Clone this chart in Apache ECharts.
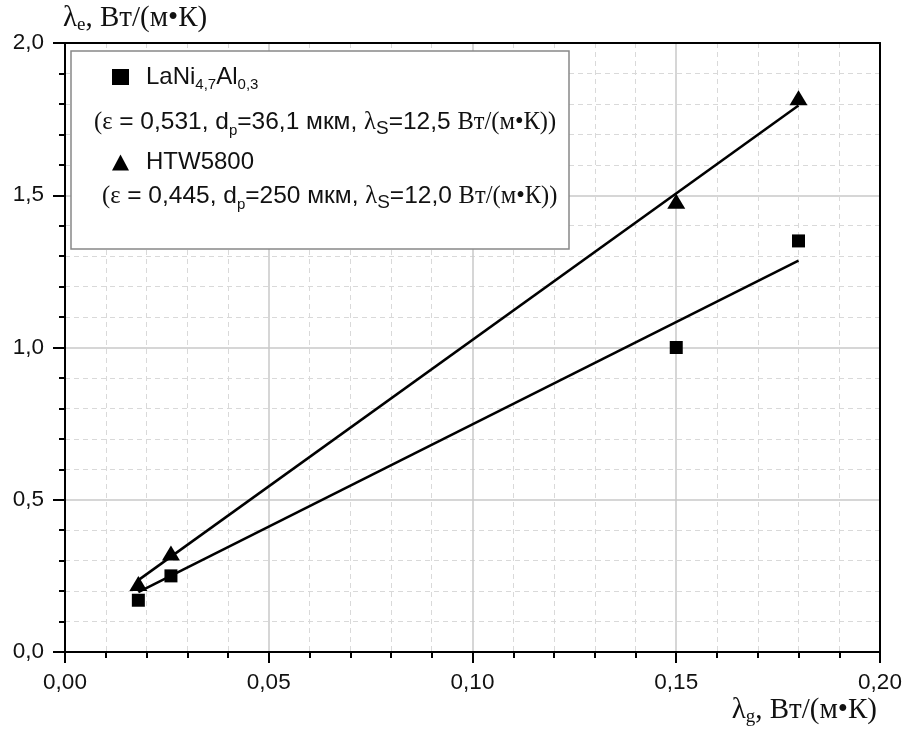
<!DOCTYPE html>
<html>
<head>
<meta charset="utf-8">
<script src="https://cdn.jsdelivr.net/npm/echarts@6/dist/echarts.min.js"></script>
<style>
  html, body { margin: 0; padding: 0; background: #fff; }
  #chart { width: 905px; height: 735px; }
</style>
</head>
<body>
<div id="chart"></div>
<script>
// измеренные точки
const lambdaG = [0.018, 0.026, 0.15, 0.18]
const laniValues = [0.17, 0.25, 1.0, 1.35]
const htwValues = [0.225, 0.325, 1.48, 1.82]
// линии аппроксимации
const fitX = [0.018, 0.18]
const laniFit = [0.197, 1.285]
const htwFit = [0.236, 1.795]
const xTicks = [0, 0.05, 0.1, 0.15, 0.2]
const yTicks = [0, 0.5, 1.0, 1.5, 2.0]

const sans = 'Liberation Sans'
const serif = 'Liberation Serif'

function pairs(xs, ys) {
    return xs.map((x, i) => [x, ys[i]])
}

let myChart = echarts.init(document.getElementById('chart'))

const tickLabel = {
    color: '#111',
    fontFamily: sans,
    fontSize: 22.5
}

const descRich = {
    g: { fontFamily: serif, fontSize: 24.5, fill: '#111' },
    sub: { fontFamily: sans, fontSize: 15, padding: [16, 0, 0, 0], fill: '#111' },
    subS: { fontFamily: sans, fontSize: 19, padding: [12, 0, 0, 0], fill: '#111' }
}

myChart.setOption({
    animation: false,
    backgroundColor: '#fff',
    grid: { left: 65, right: 25, top: 43, bottom: 83, containLabel: false, outerBoundsMode: 'none' },
    legend: {
        orient: 'vertical',
        left: 107,
        top: 60,
        itemGap: 58,
        itemWidth: 17,
        itemHeight: 16,
        z: 6,
        data: [
            { name: 'LaNi', icon: 'rect', itemStyle: { color: '#000', opacity: 1 } },
            { name: 'HTW5800', icon: 'triangle', itemStyle: { color: '#000', opacity: 1 } }
        ],
        formatter: function(name) {
            if (name === 'LaNi') return 'LaNi{sub|4,7}Al{sub|0,3}'
            return name
        },
        textStyle: {
            color: '#111',
            fontFamily: sans,
            fontSize: 24,
            padding: [0, 0, 0, 12],
            rich: {
                sub: { fontFamily: sans, fontSize: 15, padding: [16, 0, 0, 0], color: '#111' }
            }
        }
    },
    graphic: [
        {
            type: 'rect',
            z: 5,
            shape: { x: 71, y: 51, width: 498, height: 198 },
            style: { fill: '#fff', stroke: '#888', lineWidth: 1.5 }
        },
        {
            type: 'text',
            z: 7,
            left: 94,
            top: 110,
            style: {
                text: '{g|(ε} = 0,531, d{sub|p}=36,1 мкм, {g|λ}{subS|S}=12,5 {g|Вт/(м•К))}',
                fontFamily: sans,
                fontSize: 24.5,
                fill: '#111',
                rich: descRich
            }
        },
        {
            type: 'text',
            z: 7,
            left: 102,
            top: 184,
            style: {
                text: '{g|(ε} = 0,445, d{sub|p}=250 мкм, {g|λ}{subS|S}=12,0 {g|Вт/(м•К))}',
                fontFamily: sans,
                fontSize: 24.5,
                fill: '#111',
                rich: descRich
            }
        },
        {
            // подпись оси X
            type: 'text',
            z: 7,
            right: 28,
            top: 696,
            style: {
                text: 'λ{sub|g}, Вт/(м•К)',
                fontFamily: serif,
                fontSize: 29,
                fill: '#111',
                rich: {
                    sub: { fontFamily: serif, fontSize: 19, padding: [14, 0, 0, 0], fill: '#111' }
                }
            }
        }
    ],
    xAxis: [{
        type: 'value',
        min: xTicks[0],
        max: xTicks[xTicks.length - 1],
        interval: 0.05,
        axisLine: { onZero: false, lineStyle: { color: '#000', width: 2 } },
        axisTick: { inside: false, length: 11, lineStyle: { color: '#000', width: 2 } },
        minorTick: { show: true, splitNumber: 5, length: 6, lineStyle: { color: '#000', width: 2 } },
        splitLine: { show: true, lineStyle: { color: '#c8c8c8', width: 1.5 } },
        minorSplitLine: { show: true, lineStyle: { color: '#d9d9d9', width: 1, type: [5, 4] } },
        axisLabel: Object.assign({
            margin: 19,
            formatter: v => v.toFixed(2).replace('.', ',')
        }, tickLabel)
    }, {
        type: 'value',
        position: 'top',
        min: xTicks[0],
        max: xTicks[xTicks.length - 1],
        interval: 0.05,
        axisLine: { show: true, onZero: false, lineStyle: { color: '#000', width: 2 } },
        axisTick: { show: false },
        axisLabel: { show: false },
        splitLine: { show: false }
    }],
    yAxis: [{
        type: 'value',
        min: yTicks[0],
        max: yTicks[yTicks.length - 1],
        interval: 0.5,
        name: 'λ{sub|e}, Вт/(м•К)',
        nameLocation: 'end',
        nameGap: 25,
        nameTextStyle: {
            align: 'left',
            verticalAlign: 'middle',
            padding: [0, 0, 0, -2],
            color: '#111',
            fontFamily: serif,
            fontSize: 29,
            rich: {
                sub: { fontFamily: serif, fontSize: 19, padding: [14, 0, 0, 0], color: '#111' }
            }
        },
        axisLine: { show: true, onZero: false, lineStyle: { color: '#000', width: 2 } },
        axisTick: { inside: false, length: 12, lineStyle: { color: '#000', width: 2 } },
        minorTick: { show: true, splitNumber: 5, length: 6, lineStyle: { color: '#000', width: 2 } },
        splitLine: { show: true, lineStyle: { color: '#c8c8c8', width: 1.5 } },
        minorSplitLine: { show: true, lineStyle: { color: '#d9d9d9', width: 1, type: [5, 4] } },
        axisLabel: Object.assign({
            margin: 21,
            formatter: v => v.toFixed(1).replace('.', ',')
        }, tickLabel)
    }, {
        type: 'value',
        position: 'right',
        min: yTicks[0],
        max: yTicks[yTicks.length - 1],
        interval: 0.5,
        axisLine: { show: true, onZero: false, lineStyle: { color: '#000', width: 2 } },
        axisTick: { show: false },
        axisLabel: { show: false },
        splitLine: { show: false }
    }],
    series: [{
        name: 'LaNi',
        type: 'scatter',
        symbol: 'rect',
        symbolSize: 13,
        itemStyle: { color: '#000', opacity: 1 },
        data: pairs(lambdaG, laniValues),
        z: 4
    }, {
        name: 'HTW5800',
        type: 'scatter',
        symbol: 'triangle',
        symbolSize: [18, 15],
        itemStyle: { color: '#000', opacity: 1 },
        data: pairs(lambdaG, htwValues),
        z: 4
    }, {
        name: 'LaNi fit',
        type: 'line',
        showSymbol: false,
        symbol: 'none',
        lineStyle: { color: '#000', width: 2.5 },
        data: pairs(fitX, laniFit),
        z: 3
    }, {
        name: 'HTW fit',
        type: 'line',
        showSymbol: false,
        symbol: 'none',
        lineStyle: { color: '#000', width: 2.5 },
        data: pairs(fitX, htwFit),
        z: 3
    }]
})
</script>
</body>
</html>
